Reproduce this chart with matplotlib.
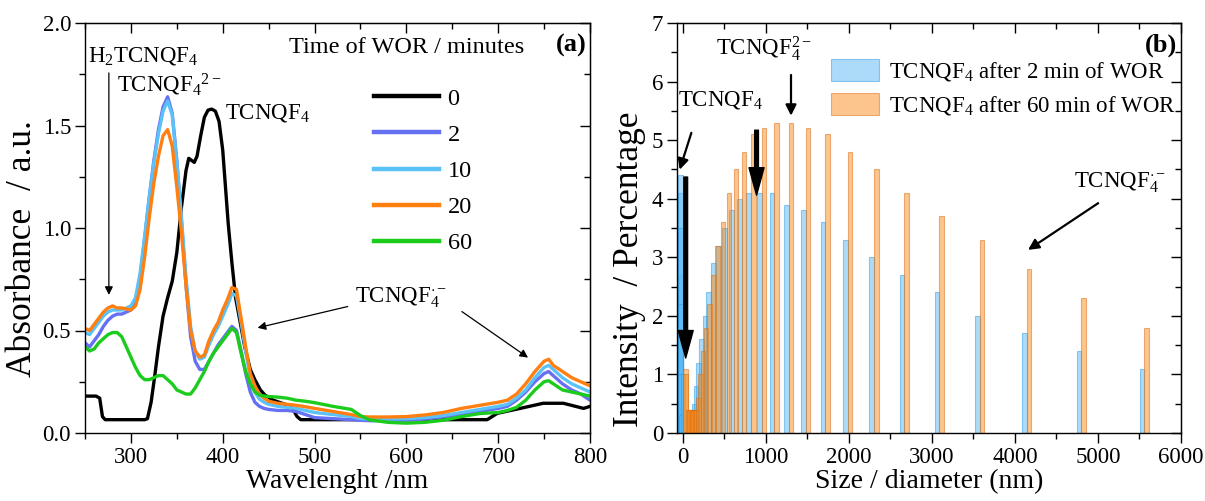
import matplotlib
matplotlib.use("Agg")
import matplotlib.pyplot as plt
from matplotlib.ticker import MultipleLocator, FormatStrFormatter

plt.rcParams['font.family'] = ['Liberation Serif', 'DejaVu Serif']
plt.rcParams['mathtext.fontset'] = 'custom'
plt.rcParams['mathtext.rm'] = 'Liberation Serif'
plt.rcParams['mathtext.it'] = 'Liberation Serif:italic'
plt.rcParams['mathtext.bf'] = 'Liberation Serif:bold'

# ---- UV-vis spectra (panel a) ----
wl_0 = [250, 262, 266, 269, 272, 300, 315, 318, 322, 326, 330, 335, 340, 345, 350, 355, 360,
        363, 366, 369, 372, 376, 380, 384, 388, 392, 396, 400, 403, 406, 410, 414, 419, 424,
        430, 435, 441, 446, 455, 468, 476, 481, 485, 500, 600, 688, 699, 724, 749, 771, 793, 800]
abs_0 = [0.18, 0.18, 0.17, 0.08, 0.065, 0.065, 0.065, 0.07, 0.15, 0.28, 0.42, 0.57, 0.66, 0.74,
         0.88, 1.10, 1.28, 1.34, 1.33, 1.32, 1.35, 1.45, 1.54, 1.575, 1.58, 1.57, 1.52, 1.38,
         1.20, 1.02, 0.83, 0.66, 0.54, 0.42, 0.31, 0.26, 0.21, 0.185, 0.16, 0.14, 0.12, 0.08,
         0.065, 0.065, 0.065, 0.065, 0.096, 0.12, 0.145, 0.145, 0.12, 0.13]

wl = [250, 255, 260, 265, 270, 275, 280, 285, 290, 295, 300, 305, 310, 315, 320, 325, 330, 335,
      340, 345, 350, 355, 360, 365, 370, 375, 380, 385, 390, 395, 400, 405, 410, 415, 420, 425,
      430, 435, 440, 445, 450, 460, 470, 480, 490, 500, 520, 540, 550, 560, 580, 600, 620, 640,
      660, 680, 700, 710, 720, 730, 740, 750, 755, 760, 770, 780, 790, 800]
abs_2 = [0.44, 0.42, 0.45, 0.48, 0.52, 0.55, 0.57, 0.58, 0.58, 0.59, 0.60, 0.64, 0.76, 0.95,
         1.15, 1.33, 1.48, 1.59, 1.64, 1.56, 1.33, 1.04, 0.72, 0.47, 0.35, 0.31, 0.31, 0.35,
         0.39, 0.43, 0.46, 0.49, 0.52, 0.50, 0.40, 0.29, 0.20, 0.15, 0.13, 0.12, 0.115, 0.11,
         0.11, 0.105, 0.09, 0.075, 0.07, 0.065, 0.062, 0.06, 0.06, 0.062, 0.068, 0.078, 0.09,
         0.105, 0.12, 0.13, 0.16, 0.20, 0.25, 0.29, 0.30, 0.28, 0.24, 0.21, 0.19, 0.16]
abs_10 = [0.49, 0.48, 0.51, 0.54, 0.57, 0.59, 0.60, 0.60, 0.60, 0.61, 0.62, 0.66, 0.78, 0.96,
          1.15, 1.32, 1.46, 1.57, 1.62, 1.55, 1.32, 1.05, 0.76, 0.52, 0.40, 0.36, 0.37, 0.43,
          0.48, 0.52, 0.57, 0.62, 0.68, 0.67, 0.54, 0.40, 0.27, 0.20, 0.165, 0.15, 0.14, 0.13,
          0.125, 0.12, 0.11, 0.10, 0.09, 0.08, 0.07, 0.068, 0.068, 0.07, 0.075, 0.085, 0.10,
          0.115, 0.13, 0.14, 0.17, 0.21, 0.27, 0.32, 0.33, 0.31, 0.27, 0.24, 0.22, 0.20]
abs_20 = [0.51, 0.50, 0.53, 0.56, 0.59, 0.61, 0.62, 0.61, 0.61, 0.605, 0.60, 0.62, 0.70, 0.86,
          1.05, 1.22, 1.35, 1.45, 1.48, 1.40, 1.20, 0.98, 0.72, 0.50, 0.40, 0.37, 0.38, 0.45,
          0.50, 0.54, 0.60, 0.65, 0.71, 0.70, 0.56, 0.42, 0.29, 0.23, 0.19, 0.17, 0.155, 0.145,
          0.14, 0.135, 0.128, 0.12, 0.105, 0.09, 0.08, 0.078, 0.078, 0.08, 0.088, 0.10, 0.12,
          0.135, 0.15, 0.16, 0.19, 0.24, 0.30, 0.35, 0.36, 0.33, 0.30, 0.27, 0.25, 0.23]
abs_60 = [0.42, 0.40, 0.41, 0.44, 0.46, 0.48, 0.49, 0.49, 0.47, 0.42, 0.37, 0.32, 0.28, 0.26,
          0.26, 0.27, 0.28, 0.28, 0.26, 0.24, 0.21, 0.20, 0.19, 0.19, 0.22, 0.26, 0.30, 0.35,
          0.39, 0.42, 0.45, 0.48, 0.51, 0.49, 0.39, 0.30, 0.24, 0.20, 0.185, 0.18, 0.178, 0.175,
          0.17, 0.16, 0.155, 0.148, 0.13, 0.115, 0.085, 0.064, 0.052, 0.048, 0.052, 0.062, 0.08,
          0.095, 0.10, 0.11, 0.125, 0.16, 0.21, 0.25, 0.255, 0.24, 0.21, 0.20, 0.19, 0.18]

# ---- DLS size distributions (panel b) ----
size_nm = [0.955, 1.294, 1.736, 2.328, 3.122, 4.187, 5.615, 7.531, 10.10, 13.54, 18.17, 24.36,
           32.67, 43.82, 58.77, 78.82, 91.28, 105.7, 122.4, 141.8, 164.2, 190.1, 220.2, 255.0,
           295.3, 342.0, 396.1, 458.7, 531.2, 615.1, 712.4, 825.0, 955.4, 1106, 1281, 1484,
           1718, 1990, 2305, 2669, 3091, 3580, 4145, 4801, 5560]
pct_2min = [1.3, 2.7, 4.1, 4.4, 3.5, 2.2, 1.0, 0.3, 0, 0, 0, 0,
            1.0, 0, 0, 0, 0, 0, 0, 0, 0.5, 0.8, 1.2, 1.6,
            2.0, 2.4, 2.9, 3.2, 3.5, 3.8, 4.0, 4.1, 4.1, 4.1, 3.9, 3.8,
            3.6, 3.3, 3.0, 2.7, 2.4, 2.0, 1.7, 1.4, 1.1]
pct_60min = [0, 0, 0, 0, 0, 0, 0, 1.1, 1.0, 0, 0, 0,
             0, 0.4, 0.4, 0.4, 0.4, 0.4, 0.4, 0.4, 0.6, 1.0, 1.4, 1.8,
             2.2, 2.7, 3.2, 3.6, 4.1, 4.5, 4.8, 5.1, 5.2, 5.3, 5.3, 5.2,
             5.1, 4.8, 4.5, 4.1, 3.7, 3.3, 2.8, 2.3, 1.8]

fig = plt.figure(figsize=(12.05, 5.01), dpi=100)
ax1 = fig.add_axes([85 / 1205, 68 / 501, 505 / 1205, 410 / 501])
ax2 = fig.add_axes([677 / 1205, 68 / 501, 504 / 1205, 410 / 501])

TICK = 16.5
XLAB = 20
YLAB = 25.5
NOTE = 16.5
LEG = 17.5


def frame(ax, xmaj, xmin, ymaj, ymin):
    ax.xaxis.set_major_locator(MultipleLocator(xmaj))
    ax.xaxis.set_minor_locator(MultipleLocator(xmin))
    ax.yaxis.set_major_locator(MultipleLocator(ymaj))
    ax.yaxis.set_minor_locator(MultipleLocator(ymin))
    ax.tick_params(which='both', direction='out', labelsize=TICK, width=1, pad=3)
    ax.tick_params(which='major', length=7)
    ax.tick_params(which='minor', length=4)
    for s in ax.spines.values():
        s.set_linewidth(1.0)
    top = ax.secondary_xaxis('top')
    right = ax.secondary_yaxis('right')
    top.xaxis.set_major_locator(MultipleLocator(xmaj))
    top.xaxis.set_minor_locator(MultipleLocator(xmin))
    right.yaxis.set_major_locator(MultipleLocator(ymaj))
    right.yaxis.set_minor_locator(MultipleLocator(ymin))
    for a in (top, right):
        a.tick_params(which='both', direction='in', labeltop=False, labelright=False, width=1)
        a.tick_params(which='major', length=7)
        a.tick_params(which='minor', length=4)


# panel a
ax1.plot(wl_0, abs_0, color='black', lw=2.4, label='0')
ax1.plot(wl, abs_2, color='#6670f2', lw=2.4, label='2')
ax1.plot(wl, abs_10, color='#5bc2f8', lw=2.4, label='10')
ax1.plot(wl, abs_20, color='#ff7f10', lw=2.4, label='20')
ax1.plot(wl, abs_60, color='#1ccc1c', lw=2.4, label='60')
ax1.set_xlim(250, 800)
ax1.set_ylim(0, 2.0)
frame(ax1, 100, 50, 0.5, 0.25)
ax1.yaxis.set_major_formatter(FormatStrFormatter('%.1f'))
ax1.set_xlabel('Wavelenght /nm', fontsize=XLAB, labelpad=1)
ax1.set_ylabel('Absorbance  / a.u.', fontsize=YLAB)
ax1.yaxis.set_label_coords(-0.092, 0.45)

ax1.text(0.404, 0.94, 'Time of WOR / minutes', transform=ax1.transAxes,
         fontsize=LEG, va='center', ha='left')
leg = ax1.legend(fontsize=LEG, frameon=False, loc='upper left',
                 bbox_to_anchor=(0.572, 0.842), borderpad=0, borderaxespad=0,
                 handlelength=2.7, handletextpad=0.33, labelspacing=0.58)
for h in leg.get_lines():
    h.set_linewidth(3.2)

ax1.text(0.993, 0.945, '(a)', transform=ax1.transAxes, ha='right', va='center',
         fontsize=19, fontweight='bold')
ax1.text(253, 1.84, r'H$_2$TCNQF$_4$', fontsize=NOTE, va='center')
ax1.text(285, 1.70, r'TCNQF$_4$$^{2-}$', fontsize=NOTE, va='center')
ax1.text(402, 1.56, r'TCNQF$_4$', fontsize=NOTE, va='center')
ax1.text(544, 0.66, r'TCNQF$_4^{\cdot-}$', fontsize=NOTE, va='center')
thin = dict(arrowstyle='-|>', color='black', lw=0.9, mutation_scale=12)
ax1.annotate('', xy=(276, 0.66), xytext=(276, 1.77), arrowprops=thin)
ax1.annotate('', xy=(435, 0.51), xytext=(539, 0.62), arrowprops=thin)
ax1.annotate('', xy=(735, 0.36), xytext=(658, 0.60), arrowprops=thin)

# panel b
w = 56
ax2.bar([s - 30 for s in size_nm], pct_2min, width=w, color='#5ab9f5', alpha=0.5,
        edgecolor='#2a9be6', linewidth=0.8, label=r'TCNQF$_4$ after 2 min of WOR')
ax2.bar([s + 24 for s in size_nm], pct_60min, width=w, color='#fb8c1c', alpha=0.5,
        edgecolor='#d86c10', linewidth=0.8, label=r'TCNQF$_4$ after 60 min of WOR')
ax2.set_xlim(-70, 6000)
ax2.set_ylim(0, 7)
frame(ax2, 1000, 500, 1, 0.5)
ax2.set_xlabel('Size / diameter (nm)', fontsize=XLAB, labelpad=1)
ax2.set_ylabel('Intensity  / Percentage', fontsize=YLAB)
ax2.yaxis.set_label_coords(-0.062, 0.40)
ax2.legend(fontsize=NOTE, frameon=False, loc='upper left', bbox_to_anchor=(0.305, 0.912),
           handlelength=2.1, handleheight=1.1, handletextpad=0.45, labelspacing=0.42,
           borderpad=0, borderaxespad=0)
ax2.text(0.993, 0.945, '(b)', transform=ax2.transAxes, ha='right', va='center',
         fontsize=19, fontweight='bold')
ax2.text(-60, 5.68, r'TCNQF$_4$', fontsize=NOTE, va='center')
ax2.text(396, 6.56, r'TCNQF$_4^{2-}$', fontsize=NOTE, va='center')
ax2.text(4706, 4.27, r'TCNQF$_4^{\cdot-}$', fontsize=NOTE, va='center')
mid = dict(arrowstyle='-|>', color='black', lw=1.6, mutation_scale=16)
ax2.annotate('', xy=(-48, 4.45), xytext=(113, 5.17), arrowprops=mid)
ax2.annotate('', xy=(1303, 5.37), xytext=(1303, 6.16), arrowprops=mid)
ax2.annotate('', xy=(4130, 3.1), xytext=(5030, 3.95), arrowprops=mid)
thick = dict(arrowstyle='simple,head_length=1.1,head_width=0.6,tail_width=0.15',
             color='black', mutation_scale=18, shrinkA=0, shrinkB=0)
ax2.annotate('', xy=(35, 1.28), xytext=(35, 4.37), arrowprops=thick)
ax2.annotate('', xy=(888, 4.06), xytext=(888, 5.17), arrowprops=thick)

fig.savefig('out.png', dpi=100)
